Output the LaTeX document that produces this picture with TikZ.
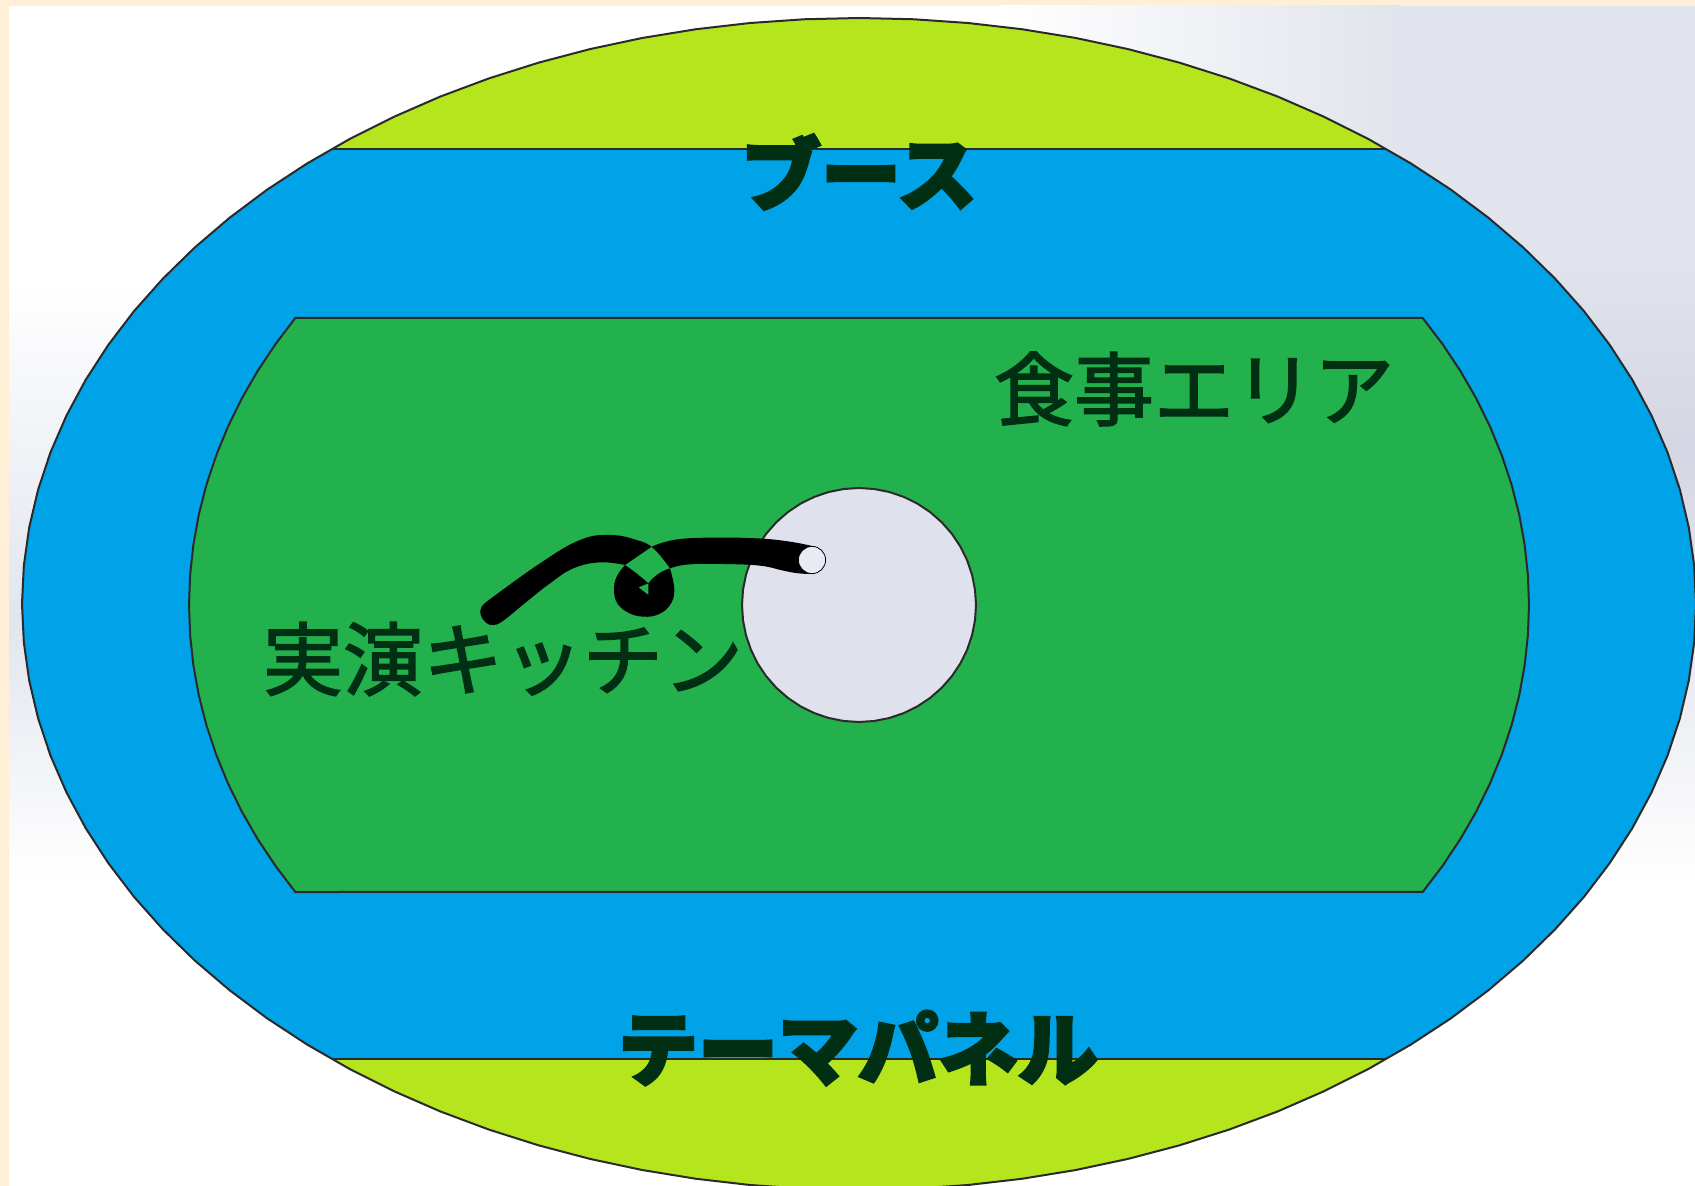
\documentclass[tikz,border=0pt]{standalone}
\usepackage{fontspec}
\setmainfont{Noto Sans CJK JP}
\newfontfamily\thinjp[FakeBold=2.0]{Noto Sans CJK JP}
\newfontfamily\heavyjp[BoldFeatures={FakeBold=3.4}]{Noto Sans CJK JP}
\definecolor{cream}{HTML}{FFEFD6}
\definecolor{skyband}{HTML}{00A2E8}
\definecolor{limeband}{HTML}{B5E61D}
\definecolor{foodgreen}{HTML}{22B14C}
\definecolor{hall}{HTML}{DFE2EC}
\definecolor{haze}{HTML}{D4D7E3}
\definecolor{hazemid}{HTML}{E1E4EC}
\definecolor{hazeleft}{HTML}{E2E5EE}
\definecolor{inkgreen}{HTML}{002F14}
\definecolor{edge}{HTML}{2A2A2A}
\tikzset{
  zone/.style={draw=edge,line width=1pt,line join=round},
  thin label/.style={text=inkgreen,inner sep=0pt,font=\fontsize{40}{48}\thinjp},
  heavy label/.style={text=inkgreen,inner sep=0pt,font=\fontsize{40}{48}\heavyjp\bfseries},
}
\newcommand{\outerpoly}{plot[domain=0:356.25,samples=96] ({859+837*cos(\x)},{604+586*sin(\x)}) -- cycle}
\begin{document}
\begin{tikzpicture}[x=0.5pt,y=-0.5pt]
\useasboundingbox (0,0) rectangle (1695,1186);
\clip (0,0) rectangle (1695,1186);
% backdrop
\fill[cream] (0,0) rectangle (1695,1186);
\fill[white] (9,6) rectangle (1695,1186);
\shade[top color=white,bottom color=hazeleft] (9,280) rectangle (200,620);
\shade[top color=hazeleft,bottom color=white] (9,620) rectangle (200,880);
\shade[left color=white,right color=hazemid] (1000,6) rectangle (1400,450);
\fill[hazemid] (1400,6) rectangle (1695,250);
\shade[top color=hazemid,bottom color=haze] (1400,250) rectangle (1695,450);
\shade[top color=haze,bottom color=white] (1300,450) rectangle (1695,885);
% outer shape and bands
\fill[limeband] \outerpoly;
\begin{scope}
  \clip \outerpoly;
  \fill[skyband] (0,149) rectangle (1695,1059);
  \draw[zone] (0,149) -- (1695,149);
  \draw[zone] (0,1059) -- (1695,1059);
\end{scope}
\draw[zone] \outerpoly;
% dining area
\draw[zone,fill=foodgreen] (295,318) -- (1423,318)
  -- plot[domain=-32.7:32.7,samples=21] ({859+670*cos(\x)},{605+531*sin(\x)})
  -- (295,892)
  -- plot[domain=147.3:212.7,samples=21] ({859+670*cos(\x)},{605+531*sin(\x)}) -- cycle;
% central circle
\draw[zone,fill=hall] plot[domain=0:352.5,samples=48] ({859+117*cos(\x)},{605+117*sin(\x)}) -- cycle;
% leader stroke, filled even-odd so that its self-overlap drops out
\begin{scope}[shift={(440,500)},x=0.16667pt,y=-0.16667pt]
\fill[black,even odd rule]
  plot[smooth,tension=0.7] coordinates {(140,305) (124,322) (122,345) (138,368) (160,375) (190,362) (260,305) (330,250) (400,205) (480,187) (555,195)}
  -- plot[smooth,tension=0.6] coordinates {(555,195) (592,222) (625,250)}
  -- (625,285) -- (595,262) -- (625,250)
  -- plot[smooth,tension=0.7] coordinates {(625,250) (650,225) (690,205) (750,193) (850,192) (960,197) (1030,212) (1075,220) (1115,222)}
  -- (1125,140)
  -- plot[smooth,tension=0.7] coordinates {(1125,140) (1050,125) (950,115) (800,113) (700,120) (635,140)}
  -- (555,195)
  -- plot[smooth,tension=0.7] coordinates {(555,195) (530,230) (522,270) (532,310) (565,338) (610,350) (655,343) (690,315) (703,270) (690,205)}
  -- plot[smooth,tension=0.7] coordinates {(690,205) (640,145) (590,120) (510,105) (420,120) (300,190) (140,305)}
  -- cycle;
\end{scope}
\draw[black,line width=0.4pt,fill=hall!70!white] (812,560) circle[radius=6.8pt];
% labels
\node[heavy label] (booth) at (859,172) {ブース};
\node[heavy label] (panel) at (858,1048) {テーマパネル};
\node[thin label] (dining) at (1194,389) {食事エリア};
\node[thin label] (kitchen) at (503,659) {実演キッチン};
\end{tikzpicture}
\end{document}
